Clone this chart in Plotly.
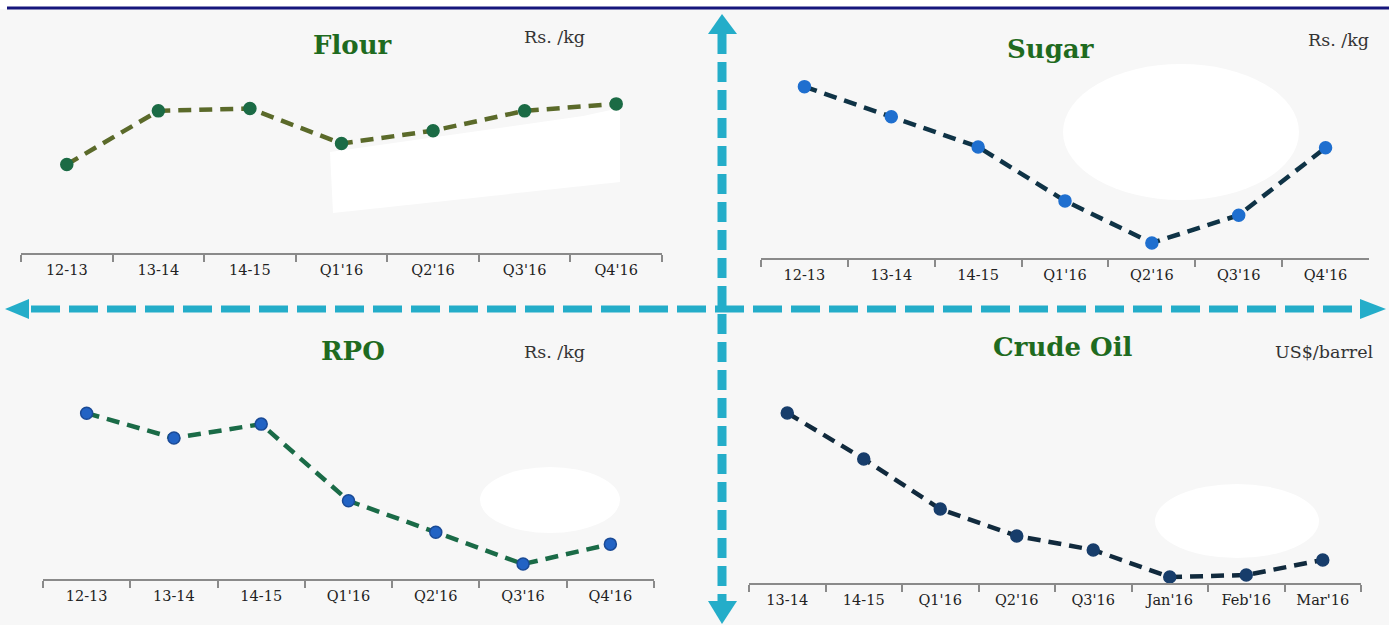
import plotly.graph_objects as go

W, H = 1389, 625

# ---------------- data ----------------
flour_cats = ["12-13", "13-14", "14-15", "Q1'16", "Q2'16", "Q3'16", "Q4'16"]
flour_vals = [32.6, 37.2, 37.4, 34.4, 35.5, 37.2, 37.8]

sugar_cats = ["12-13", "13-14", "14-15", "Q1'16", "Q2'16", "Q3'16", "Q4'16"]
sugar_vals = [61.6, 57.8, 54.0, 47.2, 41.9, 45.4, 53.9]

rpo_cats = ["12-13", "13-14", "14-15", "Q1'16", "Q2'16", "Q3'16", "Q4'16"]
rpo_vals = [93.3, 88.3, 91.1, 75.7, 69.4, 63.0, 67.0]

crude_cats = ["13-14", "14-15", "Q1'16", "Q2'16", "Q3'16", "Jan'16", "Feb'16", "Mar'16"]
crude_vals = [104.6, 83.9, 61.3, 49.2, 42.9, 30.7, 31.6, 38.4]


def px(x):
    return x / W


def py(y):
    return 1 - y / H


fig = go.Figure()

panels = [
    # cats, vals, xaxis, yaxis, line color, marker color, marker border
    (flour_cats, flour_vals, "x", "y", "#5b6a2a", "#1b6b45", "#1b6b45"),
    (sugar_cats, sugar_vals, "x2", "y2", "#0f3346", "#1f6fcf", "#1f6fcf"),
    (rpo_cats, rpo_vals, "x3", "y3", "#1a6b47", "#2263c4", "#1a4a96"),
    (crude_cats, crude_vals, "x4", "y4", "#112a3d", "#173d6b", "#173d6b"),
]
for cats, vals, xa, ya, lc, mc, mb in panels:
    fig.add_trace(go.Scatter(
        x=cats, y=vals, xaxis=xa, yaxis=ya, mode="lines+markers",
        line=dict(color=lc, width=4.5, dash="13px,8px"),
        marker=dict(size=12, color=mc, line=dict(color=mb, width=1.5)),
        cliponaxis=False, showlegend=False, hoverinfo="x+y",
    ))

tickfont = dict(family="DejaVu Serif", size=14.5, color="#222222")


def xax(domain, cats):
    return dict(domain=domain, type="category", categoryorder="array",
                categoryarray=cats, range=[-0.5, len(cats) - 0.5],
                tickson="boundaries", ticks="outside", ticklen=7,
                tickcolor="#8a8a8a", tickwidth=1.5, showline=True,
                linecolor="#8a8a8a", linewidth=1.5, showgrid=False,
                zeroline=False, tickfont=tickfont, ticklabelstandoff=3,
                fixedrange=True)


def yax(domain, rng):
    return dict(domain=domain, range=rng, visible=False, showgrid=False,
                zeroline=False, fixedrange=True)


fig.update_layout(
    width=W, height=H, autosize=False,
    margin=dict(l=0, r=0, t=0, b=0, pad=0),
    paper_bgcolor="white", plot_bgcolor="rgba(0,0,0,0)",
    xaxis=xax([px(21), px(662)], flour_cats), yaxis=yax([py(253), py(20)], [25, 45]),
    xaxis2=xax([px(761), px(1369)], sugar_cats), yaxis2=yax([py(258), py(20)], [40, 70]),
    xaxis3=xax([px(43), px(654)], rpo_cats), yaxis3=yax([py(579), py(330)], [60, 110]),
    xaxis4=xax([px(749), px(1361)], crude_cats), yaxis4=yax([py(583), py(330)], [28, 142]),
)
fig.update_layout(
    xaxis=dict(anchor="y"), yaxis=dict(anchor="x"),
    xaxis2=dict(anchor="y2"), yaxis2=dict(anchor="x2"),
    xaxis3=dict(anchor="y3"), yaxis3=dict(anchor="x3"),
    xaxis4=dict(anchor="y4"), yaxis4=dict(anchor="x4"),
)

shapes = []
# background below header line
shapes.append(dict(type="rect", xref="paper", yref="paper", x0=0, x1=1, y0=0, y1=py(9),
                   fillcolor="#f7f7f7", line=dict(width=0), layer="below"))
# header navy line
shapes.append(dict(type="line", xref="paper", yref="paper", x0=px(7), x1=1, y0=py(8), y1=py(8),
                   line=dict(color="#16167c", width=3), layer="above"))


def path(points):
    s = "M " + " L ".join(f"{px(a)},{py(b)}" for a, b in points) + " Z"
    return s


# white patches
shapes.append(dict(type="path", xref="paper", yref="paper",
                   path=path([(330, 152), (583, 116), (620, 108), (620, 182), (333, 213)]),
                   fillcolor="white", line=dict(width=0), layer="below"))
for cx, cy, rx, ry in [(1181, 132, 118, 68), (550, 500, 70, 33), (1237, 521, 82, 37)]:
    shapes.append(dict(type="circle", xref="paper", yref="paper",
                       x0=px(cx - rx), x1=px(cx + rx), y0=py(cy + ry), y1=py(cy - ry),
                       fillcolor="white", line=dict(width=0), layer="below"))

arrow = "#24adc9"
# horizontal dashed arrow
shapes.append(dict(type="line", xref="paper", yref="paper", x0=px(31), x1=px(1358),
                   y0=py(309), y1=py(309), line=dict(color=arrow, width=7, dash="29px,9px"),
                   layer="above"))
shapes.append(dict(type="path", xref="paper", yref="paper",
                   path=path([(5, 309), (29, 299), (29, 319)]),
                   fillcolor=arrow, line=dict(width=0), layer="above"))
shapes.append(dict(type="path", xref="paper", yref="paper",
                   path=path([(1386, 309), (1360, 299), (1360, 319)]),
                   fillcolor=arrow, line=dict(width=0), layer="above"))
# vertical dashed arrow
shapes.append(dict(type="line", xref="paper", yref="paper", x0=px(722), x1=px(722),
                   y0=py(34), y1=py(601), line=dict(color=arrow, width=9, dash="20px,8px"),
                   layer="above"))
shapes.append(dict(type="path", xref="paper", yref="paper",
                   path=path([(722, 14), (708, 34), (737, 34)]),
                   fillcolor=arrow, line=dict(width=0), layer="above"))
shapes.append(dict(type="path", xref="paper", yref="paper",
                   path=path([(722, 624), (708, 601), (737, 601)]),
                   fillcolor=arrow, line=dict(width=0), layer="above"))

fig.update_layout(shapes=shapes)

title_font = dict(family="DejaVu Serif", size=26, color="#1f6b1f")
unit_font = dict(family="DejaVu Serif", size=17.5, color="#333333")
ann = []
for text, x, y in [("<b>Flour</b>", 352, 45), ("<b>Sugar</b>", 1050, 49),
                   ("<b>RPO</b>", 353, 351), ("<b>Crude Oil</b>", 1063, 347)]:
    ann.append(dict(text=text, x=px(x), y=py(y), xref="paper", yref="paper",
                    xanchor="center", yanchor="middle", showarrow=False, font=title_font))
for text, x, y in [("Rs. /kg", 522, 37), ("Rs. /kg", 1306, 40),
                   ("Rs. /kg", 522, 352), ("US$/barrel", 1273, 352)]:
    ann.append(dict(text=text, x=px(x), y=py(y), xref="paper", yref="paper",
                    xanchor="left", yanchor="middle", showarrow=False, font=unit_font))
fig.update_layout(annotations=ann)

fig.write_html("out.html")
